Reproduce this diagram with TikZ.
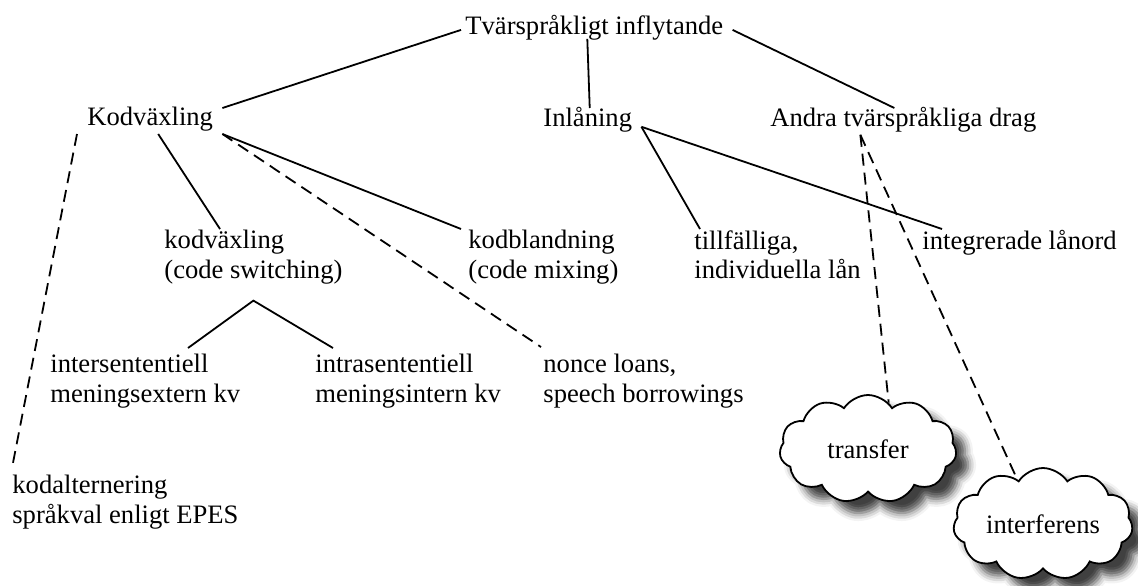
\documentclass[tikz,border=0pt]{standalone}
\usepackage{fontspec}
\setmainfont{Liberation Serif}
\usetikzlibrary{calc,shapes.symbols,shadows.blur}

\begin{document}
\begin{tikzpicture}[
			x=0.5pt, y=-0.5pt,
			term/.style={inner sep=0pt, anchor=north west, align=left,
			font=\fontsize{13.3}{14.8}\selectfont},
			link/.style={draw=black, line width=0.9pt},
			loose/.style={link, dash pattern=on 6pt off 3.5pt},
			puff/.style={cloud, cloud puffs=11, cloud puff arc=115, cloud ignores aspect,
			draw=black, line width=0.9pt, fill=white, minimum width=88.5pt, minimum height=54pt,
			font=\fontsize{13.3}{14.8}\selectfont,
			blur shadow={shadow xshift=6pt, shadow yshift=-6pt, shadow blur radius=4pt, shadow opacity=75}}
			]
			\useasboundingbox (0,0) rectangle (1138,585);
			\node[term] (tva) at (465,15) {Tvärspråkligt inflytande};
			\node[term] (kod) at (87,107) {Kodväxling};
			\node[term] (inl) at (543,107) {Inlåning};
			\node[term] (andra) at (770,107) {Andra tvärspråkliga drag};
			\node[term] (cs) at (164,230) {kodväxling\\(code switching)};
			\node[term] (mix) at (468,230) {kodblandning\\(code mixing)};
			\node[term] (tmp) at (694,230) {tillfälliga,\\individuella lån};
			\node[term] (integ) at (922,230) {integrerade lånord};
			\node[term] (inter) at (50,354) {intersententiell\\meningsextern kv};
			\node[term] (intra) at (315,354) {intrasententiell\\meningsintern kv};
			\node[term] (nonce) at (543,354) {nonce loans,\\speech borrowings};
			\node[term] (alt) at (12,475) {kodalternering\\språkval enligt EPES};
			\node[puff] (transfer) at (868,449) {transfer};
			\node[puff, minimum height=56pt] (interf) at (1043,524) {interferens};
			% top level
			\draw[link] ($(tva.west)+(-4,2)$) -- ($(kod.north east)+(9,1)$);
			\draw[link] ($(tva.south)+(-7,-2)$) -- ($(inl.north)+(2,1)$);
			\draw[link] ($(tva.east)+(9,2)$) -- ($(andra.north)+(-9,1)$);
			% kodväxling
			\draw[link] ($(kod.south)+(8,2)$) -- ($(cs.north west)+(56,-1)$);
			\draw[link] ($(kod.south east)+(9,2)$) -- ($(mix.north west)+(-7,-1)$);
			\draw[loose] ($(kod.south east)+(9,2)$) -- ($(nonce.north west)+(-2,-7)$);
			\draw[loose] ($(kod.south west)+(-10,2)$) -- ($(alt.north west)+(0,-7)$);
			\draw[link] ($(inter.north west)+(138,-6)$) -- ($(cs.south)+(0,16)$)
				-- ($(intra.north west)+(18,-6)$);
			% inlåning
			\draw[link] ($(inl.south east)+(9,-6)$) -- ($(tmp.north west)+(6,-1)$);
			\draw[link] ($(inl.south east)+(9,-6)$) -- ($(integ.north west)+(20,-1)$);
			% andra drag
			\draw[loose] ($(andra.south)+(-43,2)$) -- (transfer.66);
			\draw[loose] ($(andra.south)+(-43,2)$) -- (interf.120);
		\end{tikzpicture}
\end{document}
